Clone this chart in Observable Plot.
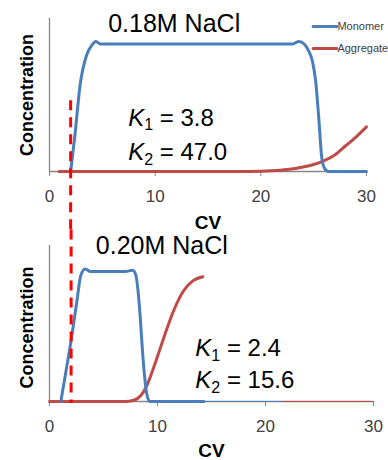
<!DOCTYPE html>
<html><head><meta charset="utf-8">
<script src="https://cdn.jsdelivr.net/npm/d3@7"></script>
<script src="https://cdn.jsdelivr.net/npm/@observablehq/plot@0.6"></script>
<style>
body{margin:0;background:#fff;}
#chart{width:388px;height:460px;overflow:hidden;}
svg{display:block;overflow:visible;}
</style>
</head><body><div id="chart"></div>
<script>
// ---- data ----
const xTicks = [0, 10, 20, 30];
const seriesNames = ["Monomer", "Aggregate"];
const seriesColors = ["#4a7ebb", "#be4b48"];
const dashCV = 2.0;

// top panel: 0.18M NaCl
const topTitle = "0.18M NaCl";
const topK = ["3.8", "47.0"];
const topMonoCV = [2.0, 2.4, 2.9, 3.5, 4.0, 4.4, 4.8, 10, 20, 23.0, 23.6, 24.1, 24.5, 24.9, 25.2, 25.5, 25.75, 26.0, 26.4, 30];
const topMonoC  = [0, 0.28, 0.68, 0.91, 0.99, 1.02, 1.0, 1.0, 1.0, 1.0, 1.02, 1.0, 0.95, 0.86, 0.7, 0.4, 0.12, 0.03, 0, 0];
const topAggCV = [0.9, 19, 21, 22.5, 24, 25, 26, 27, 28, 29, 30];
const topAggC  = [0, 0, 0.005, 0.015, 0.035, 0.055, 0.085, 0.13, 0.2, 0.27, 0.35];

// bottom panel: 0.20M NaCl
const botTitle = "0.20M NaCl";
const botK = ["2.4", "15.6"];
const botMonoCV = [1.05, 1.5, 2.0, 2.5, 2.9, 3.3, 3.8, 7.0, 7.7, 8.0, 8.2, 8.4, 8.6, 8.8, 9.0, 9.3, 14.3];
const botMonoC  = [0, 0.22, 0.47, 0.75, 0.97, 1.02, 1.0, 1.0, 1.01, 0.97, 0.85, 0.65, 0.4, 0.2, 0.06, 0, 0];
const botAggCV = [0, 7.0, 7.8, 8.5, 9.0, 9.6, 10.5, 11.5, 12.4, 13.3, 14.2];
const botAggC  = [0, 0, 0.01, 0.05, 0.12, 0.25, 0.47, 0.70, 0.85, 0.93, 0.96];
// thin trailing baseline segments after 14.3 CV
const botThinMonoCV = [14.3, 21.6];
const botThinAggCV = [21.6, 30];

const FONT = "'Liberation Sans', Arial, sans-serif";

function rows(xs, ys) { return xs.map((x, i) => ({x, y: ys[i]})); }

function panel(o) {
  const marks = [
    Plot.ruleY([0], {stroke: "#868686", strokeWidth: 1.3}),
    Plot.ruleX([0], {y1: 0, y2: 1.2, stroke: "#868686", strokeWidth: 1.3}),
    Plot.axisX({ticks: xTicks, tickSize: 5, tickPadding: 13, fontSize: 17, stroke: "#868686", fill: "#404040", label: null, tickFormat: d => String(d)}),
    Plot.line(rows(o.aggCV, o.aggC), {x: "x", y: "y", stroke: seriesColors[1], strokeWidth: 3, curve: "monotone-x"}),
    Plot.line(rows(o.monoCV, o.monoC), {x: "x", y: "y", stroke: seriesColors[0], strokeWidth: 3, curve: "monotone-x"}),
    Plot.ruleX([dashCV], {y1: o.dashY1, y2: o.dashY2, stroke: "#ff0000", strokeWidth: 3, strokeDasharray: "10,7"}),
    Plot.text([o.title], {x: o.titleX, y: o.titleY, text: d => d, fontSize: 25, fill: "#000", textAnchor: "middle"}),
    Plot.text(["K1 = " + o.k[0]], {x: o.kX, y: o.k1Y, text: d => d, fontSize: 24, fill: "#000", textAnchor: "start"}),
    Plot.text(["K2 = " + o.k[1]], {x: o.kX, y: o.k2Y, text: d => d, fontSize: 24, fill: "#000", textAnchor: "start"}),
    Plot.text(["Concentration"], {frameAnchor: "left", textAnchor: "middle", rotate: -90, dx: -22, dy: o.concDy, text: d => d, fontSize: 18, fontWeight: "bold", fill: "#000"}),
    Plot.text(["CV"], {x: 15, y: o.cvY, text: d => d, fontSize: 19, fontWeight: "bold", fill: "#000"})
  ];
  if (o.thin) {
    marks.push(Plot.line(rows(botThinMonoCV, [0, 0]), {x: "x", y: "y", stroke: seriesColors[0], strokeWidth: 1.2}));
    marks.push(Plot.line(rows(botThinAggCV, [0, 0]), {x: "x", y: "y", stroke: seriesColors[1], strokeWidth: 1.2}));
  }
  if (o.legend) {
    const legY = [1.137, 0.965];
    seriesNames.forEach((name, i) => {
      marks.push(Plot.line(rows([24.95, 27.2], [legY[i], legY[i]]), {x: "x", y: "y", stroke: seriesColors[i], strokeWidth: 3}));
      marks.push(Plot.text([name], {x: 27.2, y: legY[i], text: d => d, fontSize: 11, fill: "#404040", textAnchor: "start", dx: 0.5}));
    });
  }
  const svg = Plot.plot({
    width: 388, height: 230,
    marginLeft: 49, marginRight: o.marginRight, marginTop: o.marginTop, marginBottom: 59,
    x: {domain: [0, 30]},
    y: {domain: [0, 1.2], axis: null},
    style: {fontFamily: FONT, background: "transparent", overflow: "visible"},
    marks
  });
  // subscript K labels
  d3.select(svg).selectAll("text").each(function() {
    const t = this.textContent;
    const m = /^K(\d) = (.*)$/.exec(t);
    if (m && this.childElementCount === 0) {
      const sel = d3.select(this);
      sel.text(null);
      sel.append("tspan").attr("font-style", "italic").text("K");
      sel.append("tspan").attr("font-size", "16px").attr("dy", "0.3em").text(m[1]);
      sel.append("tspan").attr("dy", "-0.2em").text(" = " + m[2]);
    }
  });
  return svg;
}

const chart = document.getElementById("chart");
chart.appendChild(panel({
  monoCV: topMonoCV, monoC: topMonoC, aggCV: topAggCV, aggC: topAggC,
  title: topTitle, titleX: 11.8, titleY: 1.153,
  k: topK, kX: 7.45, k1Y: 0.42, k2Y: 0.15,
  marginRight: 22, marginTop: 18, dashY1: 0.555, dashY2: -0.47, cvY: -0.40, concDy: 0,
  legend: true, thin: false
}));
chart.appendChild(panel({
  monoCV: botMonoCV, monoC: botMonoC, aggCV: botAggCV, aggC: botAggC,
  title: botTitle, titleX: 10.4, titleY: 1.2,
  k: botK, kX: 13.5, k1Y: 0.41, k2Y: 0.165,
  marginRight: 15, marginTop: 15, dashY1: 1.32, dashY2: -0.015, cvY: -0.38, concDy: 4,
  legend: false, thin: true
}));
</script>
</body></html>
